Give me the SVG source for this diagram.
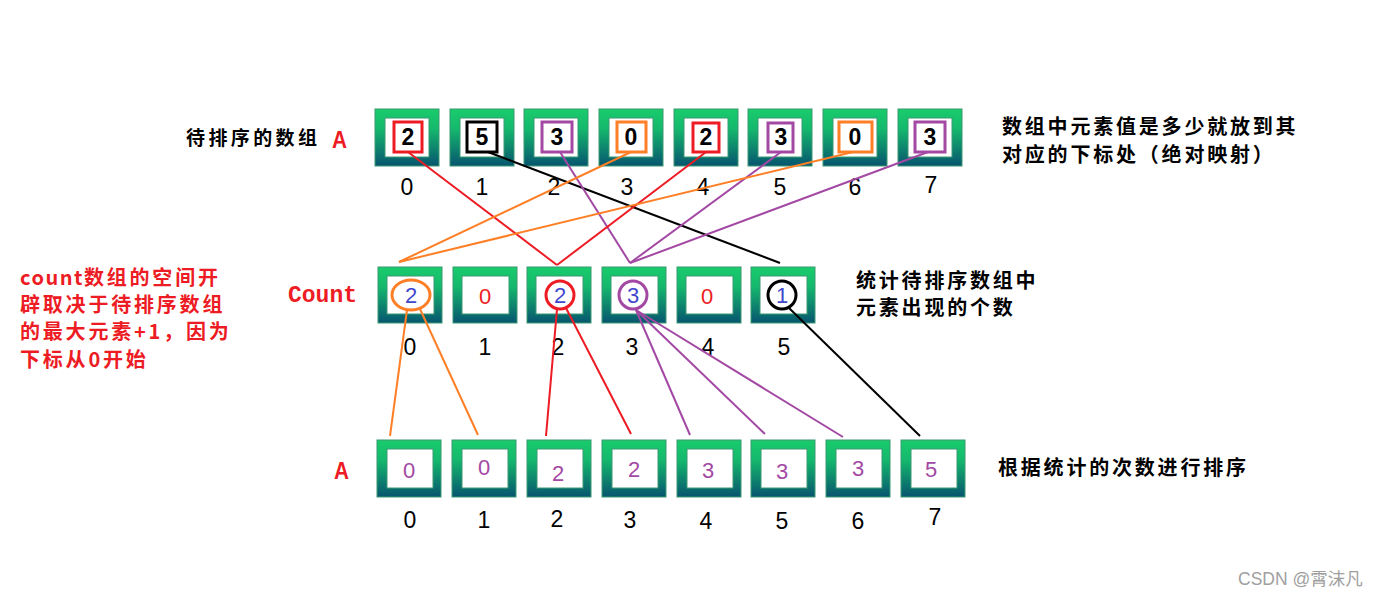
<svg xmlns="http://www.w3.org/2000/svg" width="1384" height="596" viewBox="0 0 1384 596">
<defs>
<linearGradient id="g" x1="0" y1="0" x2="0" y2="1">
<stop offset="0" stop-color="#19cc6c"/>
<stop offset="0.35" stop-color="#15b86d"/>
<stop offset="1" stop-color="#07556f"/>
</linearGradient>
<style>
.ob{fill:url(#g);stroke:#3a9a72;stroke-width:1}
.ib{fill:#fff;stroke:#3a9a72;stroke-width:1}
.sq{fill:none;stroke-width:3}
.tv{font-family:"Liberation Sans",Arial,sans-serif;font-weight:bold;font-size:23px;fill:#000;text-anchor:middle}
.cv{font-family:"Liberation Sans",Arial,sans-serif;font-size:22px;text-anchor:middle}
.bv{font-family:"Liberation Sans",Arial,sans-serif;font-size:22px;fill:#a349a4;text-anchor:middle}
.ix{font-family:"Liberation Sans",Arial,sans-serif;font-size:23px;fill:#000;text-anchor:middle}
.cj{font-family:"Noto Sans CJK SC","Noto Sans",sans-serif;font-weight:bold;font-size:19px;fill:#000;letter-spacing:3.4px}
.c20{font-size:20px;letter-spacing:2.8px}
.rd{fill:#ed1c24}
.ln{fill:none;stroke-width:2}
.o{stroke:#ff7f27}.r{stroke:#ed1c24}.p{stroke:#a349a4}.k{stroke:#000}
</style>
</defs>
<rect width="1384" height="596" fill="#fff"/>

<g id="labels">
<text class="cj" x="186" y="145">待排序的数组</text>
<text x="332" y="148" class="rd" font-family="Liberation Sans,Arial,sans-serif" font-weight="bold" font-size="24" textLength="15" lengthAdjust="spacingAndGlyphs">A</text>
<text class="cj c20" x="1002" y="134">数组中元素值是多少就放到其</text>
<text class="cj c20" x="1002" y="162">对应的下标处（绝对映射）</text>
<text x="288" y="302" class="rd" font-family="Liberation Mono,Courier New,monospace" font-weight="bold" font-size="23">Count</text>
<text class="cj c20" x="856" y="288">统计待排序数组中</text>
<text class="cj c20" x="856" y="315">元素出现的个数</text>
<text class="cj c20 rd" x="20" y="285"><tspan style="letter-spacing:1.5px">count</tspan>数组的空间开</text>
<text class="cj c20 rd" x="20" y="312">辟取决于待排序数组</text>
<text class="cj c20 rd" x="20" y="339">的最大元素+1，因为</text>
<text class="cj c20 rd" x="20" y="367">下标从0开始</text>
<text x="334" y="479" class="rd" font-family="Liberation Sans,Arial,sans-serif" font-weight="bold" font-size="24" textLength="15" lengthAdjust="spacingAndGlyphs">A</text>
<text class="cj c20" x="998" y="475">根据统计的次数进行排序</text>
<text x="1238" y="585" font-family="Liberation Sans,'Noto Sans CJK SC',sans-serif" font-size="17.5" fill="#a0a0a0">CSDN @霄沫凡</text>
</g>

<g id="top-0"><rect class="ob" x="375" y="109" width="64" height="57"/><rect class="ib" x="385" y="118" width="44" height="39"/><rect class="sq r" x="394" y="122" width="28" height="30"/><text class="tv" x="408" y="145">2</text></g>
<g id="top-1"><rect class="ob" x="450" y="109" width="64" height="57"/><rect class="ib" x="460" y="118" width="44" height="39"/><rect class="sq k" x="467" y="122" width="30" height="30"/><text class="tv" x="482" y="145">5</text></g>
<g id="top-2"><rect class="ob" x="524" y="109" width="64" height="57"/><rect class="ib" x="534" y="118" width="44" height="39"/><rect class="sq p" x="542" y="122" width="30" height="30"/><text class="tv" x="557" y="145">3</text></g>
<g id="top-3"><rect class="ob" x="599" y="109" width="64" height="57"/><rect class="ib" x="609" y="118" width="44" height="39"/><rect class="sq o" x="617" y="122" width="29" height="30"/><text class="tv" x="631" y="145">0</text></g>
<g id="top-4"><rect class="ob" x="674" y="109" width="64" height="57"/><rect class="ib" x="684" y="118" width="44" height="39"/><rect class="sq r" x="693" y="123" width="26" height="29"/><text class="tv" x="706" y="145">2</text></g>
<g id="top-5"><rect class="ob" x="748" y="109" width="64" height="57"/><rect class="ib" x="758" y="118" width="44" height="39"/><rect class="sq p" x="768" y="123" width="25" height="29"/><text class="tv" x="781" y="145">3</text></g>
<g id="top-6"><rect class="ob" x="823" y="109" width="64" height="57"/><rect class="ib" x="833" y="118" width="44" height="39"/><rect class="sq o" x="839" y="122" width="33" height="30"/><text class="tv" x="855" y="145">0</text></g>
<g id="top-7"><rect class="ob" x="898" y="109" width="64" height="57"/><rect class="ib" x="908" y="118" width="44" height="39"/><rect class="sq p" x="915" y="122" width="30" height="30"/><text class="tv" x="930" y="145">3</text></g>
<g id="top-index">
<text class="ix" x="407" y="195">0</text><text class="ix" x="482" y="195">1</text><text class="ix" x="554" y="195">2</text><text class="ix" x="627" y="195">3</text><text class="ix" x="703" y="195">4</text><text class="ix" x="780" y="195">5</text><text class="ix" x="855" y="195">6</text><text class="ix" x="931" y="193">7</text>
</g>

<g id="count-0"><rect class="ob" x="378" y="267" width="64" height="56"/><rect class="ib" x="387" y="276" width="47" height="38"/><text class="cv" x="411" y="303" fill="#3f48cc">2</text><ellipse class="sq o" cx="411" cy="295" rx="19" ry="15" stroke-width="2.5"/></g>
<g id="count-1"><rect class="ob" x="453" y="267" width="64" height="56"/><rect class="ib" x="462" y="276" width="47" height="38"/><text class="cv" x="485" y="304" fill="#ed1c24">0</text></g>
<g id="count-2"><rect class="ob" x="527" y="267" width="64" height="56"/><rect class="ib" x="536" y="276" width="47" height="38"/><text class="cv" x="560" y="303" fill="#3f48cc">2</text><circle class="sq r" cx="560" cy="295" r="14" stroke-width="2.5"/></g>
<g id="count-3"><rect class="ob" x="602" y="267" width="64" height="56"/><rect class="ib" x="611" y="276" width="47" height="38"/><text class="cv" x="633" y="303" fill="#3f48cc">3</text><circle class="sq p" cx="633" cy="295" r="14" stroke-width="2.5"/></g>
<g id="count-4"><rect class="ob" x="677" y="267" width="64" height="56"/><rect class="ib" x="686" y="276" width="47" height="38"/><text class="cv" x="707" y="304" fill="#ed1c24">0</text></g>
<g id="count-5"><rect class="ob" x="751" y="267" width="64" height="56"/><rect class="ib" x="760" y="276" width="47" height="38"/><text class="cv" x="782" y="303" fill="#3f48cc">1</text><circle class="sq k" cx="782" cy="295" r="14" stroke-width="2.5"/></g>
<g id="count-index">
<text class="ix" x="410" y="355">0</text><text class="ix" x="485" y="355">1</text><text class="ix" x="558" y="355">2</text><text class="ix" x="632" y="355">3</text><text class="ix" x="708" y="355">4</text><text class="ix" x="784" y="355">5</text>
</g>

<g id="out-0"><rect class="ob" x="377" y="440" width="64" height="57"/><rect class="ib" x="387" y="449" width="46" height="39"/><text class="bv" x="409" y="478">0</text></g>
<g id="out-1"><rect class="ob" x="452" y="440" width="64" height="57"/><rect class="ib" x="462" y="449" width="46" height="39"/><text class="bv" x="484" y="475">0</text></g>
<g id="out-2"><rect class="ob" x="527" y="440" width="64" height="57"/><rect class="ib" x="537" y="449" width="46" height="39"/><text class="bv" x="558" y="481">2</text></g>
<g id="out-3"><rect class="ob" x="602" y="440" width="64" height="57"/><rect class="ib" x="612" y="449" width="46" height="39"/><text class="bv" x="634" y="477">2</text></g>
<g id="out-4"><rect class="ob" x="677" y="440" width="64" height="57"/><rect class="ib" x="687" y="449" width="46" height="39"/><text class="bv" x="708" y="478">3</text></g>
<g id="out-5"><rect class="ob" x="751" y="440" width="64" height="57"/><rect class="ib" x="761" y="449" width="46" height="39"/><text class="bv" x="782" y="479">3</text></g>
<g id="out-6"><rect class="ob" x="826" y="440" width="64" height="57"/><rect class="ib" x="836" y="449" width="46" height="39"/><text class="bv" x="858" y="476">3</text></g>
<g id="out-7"><rect class="ob" x="901" y="440" width="64" height="57"/><rect class="ib" x="911" y="449" width="46" height="39"/><text class="bv" x="931" y="477">5</text></g>
<g id="out-index">
<text class="ix" x="410" y="528">0</text><text class="ix" x="484" y="528">1</text><text class="ix" x="557" y="527">2</text><text class="ix" x="630" y="528">3</text><text class="ix" x="706" y="529">4</text><text class="ix" x="782" y="529">5</text><text class="ix" x="858" y="529">6</text><text class="ix" x="935" y="525">7</text>
</g>

<g id="connectors">
<line class="ln r" x1="408" y1="152" x2="557" y2="265"/>
<line class="ln k" x1="488" y1="152" x2="780" y2="263"/>
<line class="ln p" x1="560" y1="152" x2="630" y2="263"/>
<line class="ln o" x1="631" y1="152" x2="399" y2="262"/>
<line class="ln r" x1="706" y1="152" x2="557" y2="265"/>
<line class="ln p" x1="781" y1="152" x2="630" y2="263"/>
<line class="ln o" x1="853" y1="152" x2="399" y2="262"/>
<line class="ln p" x1="928" y1="152" x2="630" y2="263"/>
<line class="ln o" x1="407" y1="310" x2="390" y2="436"/>
<line class="ln o" x1="420" y1="309" x2="478" y2="435"/>
<line class="ln r" x1="557" y1="309" x2="546" y2="436"/>
<line class="ln r" x1="566" y1="308" x2="631" y2="434"/>
<line class="ln p" x1="636" y1="310" x2="690" y2="435"/>
<line class="ln p" x1="636" y1="310" x2="765" y2="434"/>
<line class="ln p" x1="636" y1="310" x2="843" y2="437"/>
<line class="ln k" x1="789" y1="308" x2="920" y2="436"/>
</g>
</svg>
